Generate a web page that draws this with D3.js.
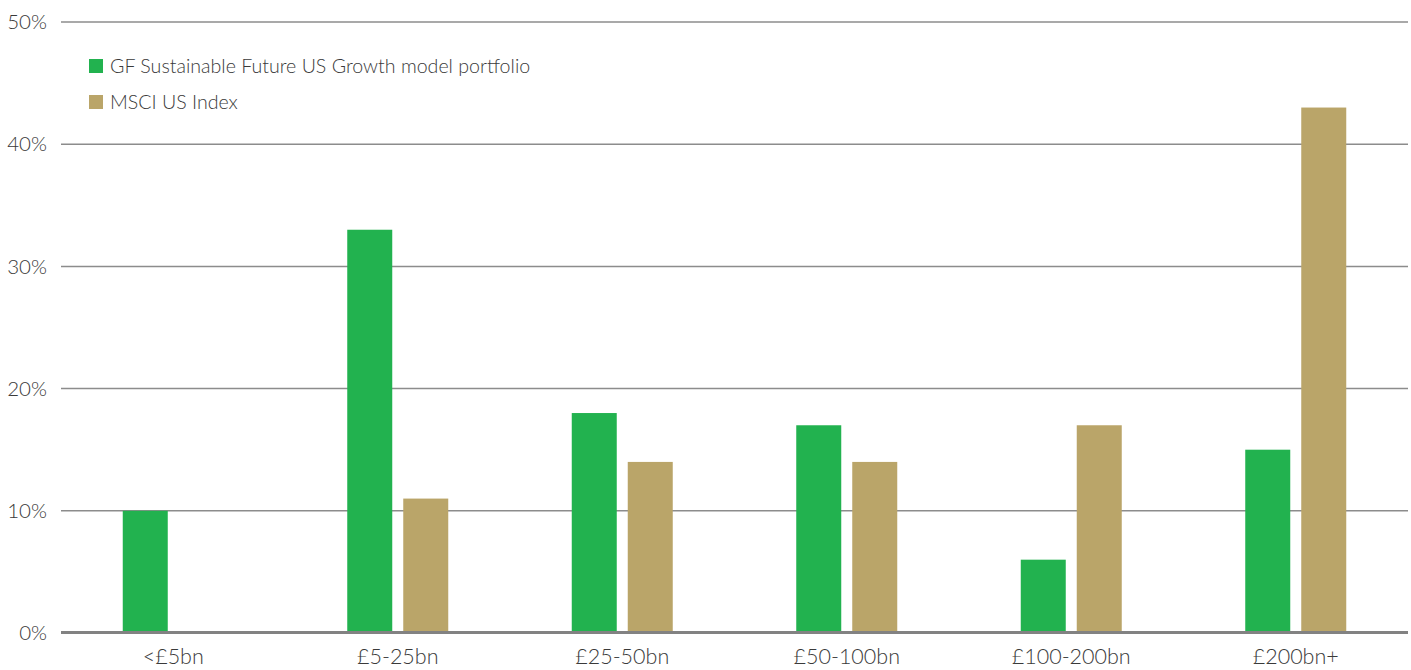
<!DOCTYPE html>
<html>
<head>
<meta charset="utf-8">
<script src="https://cdn.jsdelivr.net/npm/d3@7"></script>
<style>
  body { margin: 0; background: #fff; }
  svg text { font-family: Lato, "Open Sans", sans-serif; font-weight: 300; fill: #3a3a3a; }
</style>
</head>
<body>
<div id="chart"></div>
<script>
const categories = ['<£5bn', '£5-25bn', '£25-50bn', '£50-100bn', '£100-200bn', '£200bn+'];
const seriesNames = ['GF Sustainable Future US Growth model portfolio', 'MSCI US Index'];
const portfolio = [10, 33, 18, 17, 6, 15];
const msci = [0, 11, 14, 14, 17, 43];
const yTicks = [0, 10, 20, 30, 40, 50];
const colors = ['#22b24f', '#baa569'];

const width = 1411;
const height = 670;
const margin = {top: 22, right: 3, bottom: 37, left: 61};
const innerW = width - margin.left - margin.right;
const innerH = height - margin.top - margin.bottom;

const svg = d3.select('#chart')
    .append('svg')
    .attr('width', width)
    .attr('height', height);

const chart = svg.append('g')
    .attr('transform', `translate(${margin.left},${margin.top})`);

const x = d3.scaleBand().domain(categories).range([0, innerW]);
const y = d3.scaleLinear().domain([0, 50]).range([innerH, 0]);

const barW = 45;
const gap = 11;

// gridlines
chart.selectAll('.grid')
    .data(yTicks.filter(t => t > 0))
    .enter().append('line')
    .attr('x1', 0)
    .attr('x2', innerW)
    .attr('y1', d => y(d))
    .attr('y2', d => y(d))
    .attr('stroke', '#8c8c8c')
    .attr('stroke-width', 1.5);

// y tick labels
chart.selectAll('.ytick')
    .data(yTicks)
    .enter().append('text')
    .attr('x', -14)
    .attr('y', d => y(d))
    .attr('dy', '0.35em')
    .attr('text-anchor', 'end')
    .attr('font-size', '20.5px')
    .text(d => d + '%');

const data = [portfolio, msci];

data.forEach((values, s) => {
  chart.selectAll('.bar' + s)
      .data(values)
      .enter().append('rect')
      .attr('x', (d, i) => x(categories[i]) + x.bandwidth() / 2 - barW - gap / 2 + s * (barW + gap))
      .attr('y', d => y(d))
      .attr('width', barW)
      .attr('height', d => innerH - y(d))
      .attr('fill', colors[s]);
});

// baseline
chart.append('line')
    .attr('x1', 0)
    .attr('x2', innerW)
    .attr('y1', y(0) - 0.5)
    .attr('y2', y(0) - 0.5)
    .attr('stroke', '#828282')
    .attr('stroke-width', 3);

// category labels (kept just inside the bottom edge)
chart.selectAll('.xlabel')
    .data(categories)
    .enter().append('text')
    .attr('x', d => x(d) + x.bandwidth() / 2)
    .attr('y', innerH + 23)
    .attr('dy', '0.35em')
    .attr('text-anchor', 'middle')
    .attr('font-size', '21.5px')
    .text(d => d);

// legend
const legend = svg.selectAll('.legend')
    .data(seriesNames)
    .enter().append('g')
    .attr('transform', (d, i) => `translate(89, ${59 + i * 36})`);

legend.append('rect')
    .attr('width', 14)
    .attr('height', 14)
    .attr('fill', (d, i) => colors[i]);

legend.append('text')
    .attr('x', 21)
    .attr('y', 7)
    .attr('dy', '0.35em')
    .attr('font-size', '19.6px')
    .text(d => d);
</script>
</body>
</html>
